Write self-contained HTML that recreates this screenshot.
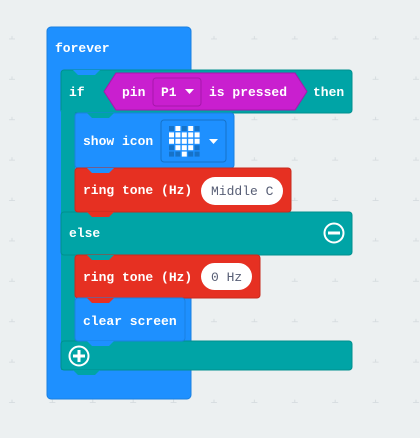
<!DOCTYPE html>
<html><head><style>
html,body{margin:0;padding:0;background:#ecf0f1;}
svg{display:block}
text{font-family:"Liberation Mono",monospace;font-size:13px;font-weight:bold;fill:#fff;}
</style></head><body>
<svg width="420" height="438" viewBox="0 0 420 438" xmlns="http://www.w3.org/2000/svg">
<defs>
<pattern id="g" x="-8" y="-1" width="40.4" height="40.4" patternUnits="userSpaceOnUse">
<path d="M20 37v6M17 40h6" stroke="#d6dcdf" stroke-width="1"/>
</pattern>
</defs>
<rect width="420" height="438" fill="#ecf0f1"/>
<rect width="420" height="438" fill="url(#g)"/>

<!-- forever -->
<rect x="47" y="27" width="144" height="372" rx="4" fill="#1e90ff" stroke="#1a7fe0" stroke-width="1"/>
<text x="55" y="52">forever</text>

<!-- if container teal -->
<rect x="61" y="70" width="291" height="43" rx="3" fill="#00a4a6" stroke="#00908f"/>
<rect x="61" y="110" width="14" height="260" fill="#00a4a6"/>
<rect x="61" y="212" width="291" height="43" rx="3" fill="#00a4a6" stroke="#00908f"/>
<rect x="61" y="341" width="291" height="29" rx="3" fill="#00a4a6" stroke="#00908f"/>
<path d="M73 370 l5 5 h17 l5 -5 z" fill="#00a4a6"/>
<path d="M73 70 l5 5 h17 l5 -5 z" fill="#1e90ff"/>
<text x="69" y="96">if</text>
<text x="313" y="96">then</text>
<text x="69" y="237">else</text>

<!-- pin pressed hex -->
<path d="M104 91.5 L116 73 H295 L307 91.5 L295 110 H116 Z" fill="#c91fcf" stroke="#a617ab"/>
<text x="122" y="96">pin</text>
<rect x="153" y="78" width="48" height="28" rx="3" fill="#c91fcf" stroke="#a617ab"/>
<text x="161" y="96">P1</text>
<path d="M185 89 h9 l-4.5 5 z" fill="#fff"/>
<text x="209" y="96">is pressed</text>

<!-- show icon -->
<rect x="75" y="113" width="159" height="55" rx="3" fill="#1e90ff" stroke="#1a7fe0"/>
<path d="M87 113 l5 5 h17 l5 -5 z" fill="#00a4a6"/>
<text x="83" y="145">show icon</text>
<rect x="161" y="120" width="65" height="42" rx="3" fill="#1e90ff" stroke="#1672c8"/>
<g fill="#1672c8">
<rect x="169" y="126" width="5" height="5"/><rect x="181.8" y="126" width="5" height="5"/><rect x="194.6" y="126" width="5" height="5"/>
<rect x="169" y="145.2" width="5" height="5"/><rect x="194.6" y="145.2" width="5" height="5"/>
<rect x="169" y="151.6" width="5" height="5"/><rect x="175.4" y="151.6" width="5" height="5"/><rect x="188.2" y="151.6" width="5" height="5"/><rect x="194.6" y="151.6" width="5" height="5"/>
</g>
<g fill="#fff">
<rect x="175.4" y="126" width="5" height="5"/><rect x="188.2" y="126" width="5" height="5"/>
<rect x="169" y="132.4" width="5" height="5"/><rect x="175.4" y="132.4" width="5" height="5"/><rect x="181.8" y="132.4" width="5" height="5"/><rect x="188.2" y="132.4" width="5" height="5"/><rect x="194.6" y="132.4" width="5" height="5"/>
<rect x="169" y="138.8" width="5" height="5"/><rect x="175.4" y="138.8" width="5" height="5"/><rect x="181.8" y="138.8" width="5" height="5"/><rect x="188.2" y="138.8" width="5" height="5"/><rect x="194.6" y="138.8" width="5" height="5"/>
<rect x="175.4" y="145.2" width="5" height="5"/><rect x="181.8" y="145.2" width="5" height="5"/><rect x="188.2" y="145.2" width="5" height="5"/>
<rect x="181.8" y="151.6" width="5" height="5"/>
</g>
<path d="M209 139 h9 l-4.5 5 z" fill="#fff"/>

<!-- ring tone Middle C -->
<rect x="75" y="168" width="216" height="44" rx="3" fill="#e63022" stroke="#c72a1d"/>
<path d="M87 168 l5 5 h17 l5 -5 z" fill="#1e90ff"/>
<path d="M87 212 l5 5 h17 l5 -5 z" fill="#e63022"/>
<text x="83" y="194">ring tone (Hz)</text>
<rect x="201" y="177" width="82" height="28" rx="14" fill="#fff"/>
<text x="211" y="195" style="fill:#575e75;font-weight:normal">Middle C</text>

<!-- else minus -->
<circle cx="334" cy="233" r="9.5" fill="none" stroke="#fff" stroke-width="2"/>
<rect x="328" y="231.5" width="12" height="3" fill="#fff"/>

<!-- ring tone 0 Hz -->
<rect x="75" y="255" width="185" height="43" rx="3" fill="#e63022" stroke="#c72a1d"/>
<path d="M87 255 l5 5 h17 l5 -5 z" fill="#00a4a6"/>
<text x="83" y="281">ring tone (Hz)</text>
<rect x="201" y="263" width="51" height="27" rx="13.5" fill="#fff"/>
<text x="211" y="281" style="fill:#575e75;font-weight:normal">0 Hz</text>

<!-- clear screen -->
<rect x="75" y="298" width="110" height="43" rx="3" fill="#1e90ff" stroke="#1a7fe0"/>
<path d="M87 298 l5 5 h17 l5 -5 z" fill="#e63022"/>
<path d="M87 341 l5 5 h17 l5 -5 z" fill="#1e90ff"/>
<text x="83" y="325">clear screen</text>

<!-- plus -->
<circle cx="79" cy="356" r="9.5" fill="none" stroke="#fff" stroke-width="2"/>
<rect x="73" y="354.5" width="12" height="3" fill="#fff"/>
<rect x="77.5" y="350" width="3" height="12" fill="#fff"/>
</svg>
</body></html>
